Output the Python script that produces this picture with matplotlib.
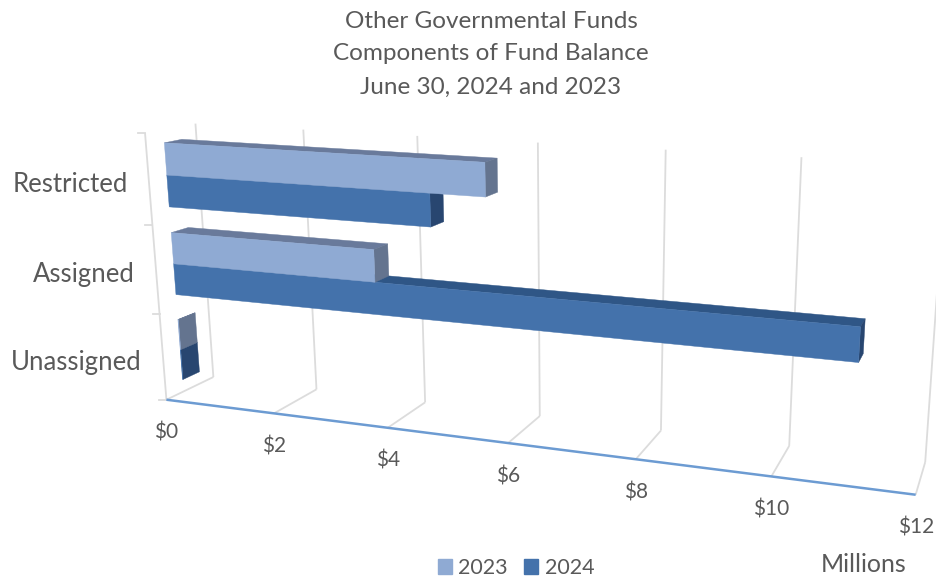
# draws the other governmental funds chart as a perspective bar chart
# a small camera matrix maps value, category height and depth onto the picture

import numpy as np
import matplotlib
matplotlib.use("Agg")
import matplotlib.pyplot as plt
from matplotlib.patches import Patch

# chart values in millions of dollars, bottom category first
categories = ["Unassigned", "Assigned", "Restricted"]
values_2023 = [0.01, 3.63, 5.5]
values_2024 = [0.01, 11.07, 4.6]
series_names = ["2023", "2024"]
value_ticks = [0, 2, 4, 6, 8, 10, 12]
tick_labels = ["$0", "$2", "$4", "$6", "$8", "$10", "$12"]

title_lines = ["Other Governmental Funds", "Components of Fund Balance", "June 30, 2024 and 2023"]

# colours of the front, top and end faces of each series
COLORS_2023 = ("#8FAAD3", "#697A9B", "#64748F")
COLORS_2024 = ("#4472AB", "#2F5686", "#284670")
GRID_COLOR = "#DCDCDC"
AXIS_COLOR = "#6C9BD2"
TEXT_COLOR = "#595959"
FONT = "Lato"

# bars fill this part of a category and of the depth of the floor
GAP = 0.145
DEPTH_FRONT = 0.35
DEPTH_BACK = 0.70

# where known corners of the chart box sit in the picture: (value, height, depth, px, py)
CALIBRATION = [
	(0, 0, 0, 169, 399), (2, 0, 0, 277, 413), (4, 0, 0, 389, 427), (6, 0, 0, 509, 443),
	(8, 0, 0, 636, 459), (10, 0, 0, 771, 477), (12, 0, 0, 915, 495),
	(0, 0, 1, 213, 377), (2, 0, 1, 316, 389), (4, 0, 1, 425, 402), (6, 0, 1, 539, 417),
	(8, 0, 1, 660, 431), (10, 0, 1, 789, 447), (12, 0, 1, 926, 462),
	(0, 3, 1, 197, 124), (2, 3, 1, 304, 130), (4, 3, 1, 417, 136), (6, 3, 1, 538, 142),
	(8, 3, 1, 666, 148), (10, 3, 1, 802, 157), (12, 3, 1, 945, 165),
	(0, 1, 0, 155, 313), (0, 2, 0, 147, 226), (0, 3, 0, 148, 134),
]


# solves for the camera matrix with least squares
def fitCamera():
	rows = []
	targets = []
	for x, y, z, px, py in CALIBRATION:
		rows.append([x, y, z, 1, 0, 0, 0, 0, -px*x, -px*y, -px*z])
		targets.append(px)
		rows.append([0, 0, 0, 0, x, y, z, 1, -py*x, -py*y, -py*z])
		targets.append(py)
	solution = np.linalg.lstsq(np.array(rows, float), np.array(targets, float), rcond=None)[0]
	return np.append(solution, 1).reshape(3, 4)


CAMERA = fitCamera()


# maps a value, height and depth to a position in the picture
def project(x, y, z):
	u, v, w = CAMERA @ np.array([x, y, z, 1.0])
	return u/w, v/w


def drawLine(ax, start, end, color, width):
	a = project(*start)
	b = project(*end)
	ax.plot([a[0], b[0]], [a[1], b[1]], color=color, lw=width, solid_capstyle="butt", zorder=1)


def drawFace(ax, corners, color, order):
	points = [project(*corner) for corner in corners]
	ax.fill([p[0] for p in points], [p[1] for p in points], facecolor=color, edgecolor=color, lw=0.3, zorder=order)


# draws the visible faces of one bar: top, right end and front
def drawBar(ax, value, low, high, colors, order):
	z0 = DEPTH_FRONT
	z1 = DEPTH_BACK
	drawFace(ax, [(0, high, z0), (value, high, z0), (value, high, z1), (0, high, z1)], colors[1], order)
	drawFace(ax, [(value, low, z0), (value, high, z0), (value, high, z1), (value, low, z1)], colors[2], order)
	drawFace(ax, [(0, low, z0), (value, low, z0), (value, high, z0), (0, high, z0)], colors[0], order)


def main():
	fig = plt.figure(figsize=(9.37, 5.81), dpi=100)
	ax = fig.add_axes([0, 0, 1, 1])
	ax.set_xlim(0, 937)
	ax.set_ylim(581, 0)
	ax.axis("off")

	# gridlines run across the floor and then up the back wall
	for tick in value_ticks:
		drawLine(ax, (tick, 0, 0), (tick, 0, 1), GRID_COLOR, 1.3)
		drawLine(ax, (tick, 0, 1), (tick, 3, 1), GRID_COLOR, 1.3)

	# category axis with its tick marks
	drawLine(ax, (0, 0, 0), (0, 3, 0), GRID_COLOR, 1.3)
	for k in range(len(categories) + 1):
		px, py = project(0, k, 0)
		ax.plot([px - 7, px], [py, py], color=GRID_COLOR, lw=1.3, zorder=1)

	drawLine(ax, (0, 0, 0), (12, 0, 0), AXIS_COLOR, 1.8)

	# bars go from the bottom up since the upper ones hide the lower ones
	order = 3
	for k in range(len(categories)):
		middle = k + 0.5
		drawBar(ax, values_2024[k], k + GAP, middle, COLORS_2024, order)
		drawBar(ax, values_2023[k], middle, k + 1 - GAP, COLORS_2023, order + 1)
		order += 2

	for tick, label in zip(value_ticks, tick_labels):
		px, py = project(tick, 0, 0)
		ax.text(px, py + 33, label, color=TEXT_COLOR, fontsize=15, family=FONT, ha="center", va="center")

	for k, name in enumerate(categories):
		px, py = project(0, k + 0.5, 0)
		ax.text(px - 21, py + 5, name, color=TEXT_COLOR, fontsize=18.5, family=FONT, ha="right", va="center")

	for i, line in enumerate(title_lines):
		ax.text(491, 21 + i*33, line, color=TEXT_COLOR, fontsize=17.5, family=FONT, ha="center", va="center")

	ax.text(864, 565, "Millions", color=TEXT_COLOR, fontsize=18, family=FONT, ha="center", va="center")

	handles = [Patch(color=COLORS_2023[0]), Patch(color=COLORS_2024[0])]
	ax.legend(handles, series_names, loc="center", bbox_to_anchor=(516, 568), bbox_transform=ax.transData,
		ncol=2, frameon=False, handlelength=0.65, handleheight=0.65, handletextpad=0.3, columnspacing=0.75,
		labelcolor=TEXT_COLOR, prop={"family": FONT, "size": 15.5}, borderpad=0)

	fig.savefig("out.png", dpi=100)


if __name__ == "__main__":
	main()
